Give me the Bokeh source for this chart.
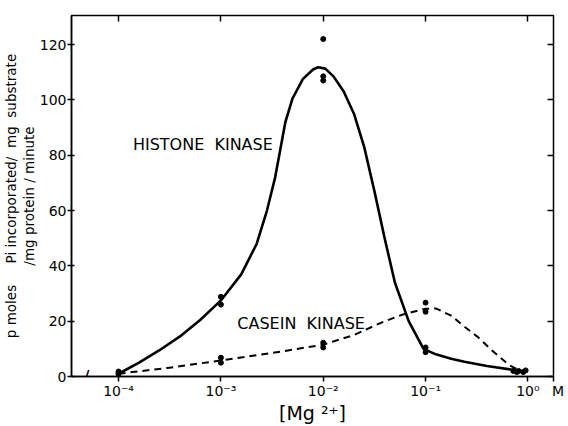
import numpy as np
from bokeh.plotting import figure
from bokeh.models import FixedTicker, LinearAxis, LogAxis, Label, Range1d, Title
from bokeh.embed import file_html
from bokeh.resources import INLINE

# Measured points (Mg2+ molar concentration, activity)
hist_x = [1e-4, 1e-4, 1e-3, 1e-3, 1e-2, 1e-2, 1e-2, 1e-1, 1e-1, 0.72, 0.81, 0.95]
hist_y = [1.2, 1.8, 26.0, 28.8, 107.0, 108.5, 122.0, 10.5, 8.8, 2.0, 2.0, 2.2]
cas_x = [1e-4, 1e-3, 1e-3, 1e-2, 1e-2, 1e-1, 1e-1, 0.78, 0.9]
cas_y = [1.0, 5.0, 6.8, 10.5, 12.2, 26.7, 23.4, 1.6, 1.6]

# Hand-drawn fitted curves (log10 of concentration, activity)
hist_curve_logx = [-4.0, -3.8, -3.6, -3.4, -3.2, -3.0, -2.8, -2.65, -2.55, -2.47, -2.42, -2.37, -2.3,
                   -2.2, -2.1, -2.05, -1.98, -1.9, -1.8, -1.7, -1.6, -1.5, -1.4, -1.3, -1.165, -1.02,
                   -0.9, -0.75, -0.62, -0.4, -0.165, -0.05]
hist_curve_y = [1.0, 5.0, 9.5, 14.5, 20.5, 27.5, 37.0, 48.0, 60.0, 72.0, 82.0, 92.0, 100.5,
                107.5, 111.0, 111.8, 111.3, 108.5, 103.0, 95.0, 83.0, 67.0, 50.0, 34.0, 20.0, 10.0,
                8.0, 6.4, 5.3, 3.8, 2.5, 2.0]
cas_curve_logx = [-4.0, -3.5, -3.0, -2.5, -2.0, -1.7, -1.43, -1.23, -1.0, -0.9, -0.75, -0.62, -0.48,
                  -0.36, -0.19, -0.05]
cas_curve_y = [1.0, 3.2, 5.8, 8.5, 11.5, 15.0, 19.5, 22.3, 24.5, 24.6, 22.0, 18.0, 14.0,
               9.7, 4.3, 1.5]

NB = "\u00a0"
x_ticks = [1e-4, 1e-3, 1e-2, 1e-1, 1e0, 10 ** 0.25]
x_tick_labels = ["10⁻⁴", "10⁻³", "10⁻²", "10⁻¹", "10⁰", NB * 2 + "M"]
y_ticks = [0, 20, 40, 60, 80, 100, 120]

FONT = "DejaVu Sans"
ylabel_line1 = ("p" + NB + "moles" + NB * 5 + "Pi" + NB + "incorporated/" + NB * 2 + "mg" + NB * 2
                + "substrate")
ylabel_line2 = "/mg" + NB + "protein" + NB + "/" + NB + "minute"
xlabel = "[Mg" + NB + "²⁺]"

p = figure(width=568, height=426, x_axis_type="log", output_backend="svg",
           toolbar_location=None,
           x_range=Range1d(10 ** -4.46, 10 ** 0.25), y_range=Range1d(0, 130.5),
           min_border_left=0, min_border_right=15, min_border_top=15, min_border_bottom=0)
p.background_fill_color = "white"
p.border_fill_color = "white"
p.outline_line_color = "black"
p.outline_line_width = 1.5
p.grid.visible = False

# axes styling
p.xaxis.ticker = FixedTicker(ticks=x_ticks)
p.xaxis.major_label_overrides = {t: l for t, l in zip(x_ticks, x_tick_labels)}
p.xaxis.minor_tick_line_color = None
p.xaxis.major_tick_out = 5
p.xaxis.major_tick_in = 0
p.xaxis.axis_label = xlabel
p.xaxis.axis_label_text_font_style = "normal"
p.xaxis.axis_label_text_font = FONT
p.xaxis.axis_label_text_font_size = "19px"
p.xaxis.axis_label_text_color = "black"
p.xaxis.axis_label_standoff = 0
p.yaxis.ticker = FixedTicker(ticks=y_ticks)
p.yaxis.minor_tick_line_color = None
p.yaxis.major_tick_out = 4
p.yaxis.major_tick_in = 3
for ax in (p.xaxis, p.yaxis):
    ax.major_label_text_font = FONT
    ax.major_label_text_font_size = "14px"
    ax.major_label_text_color = "black"
    ax.axis_line_width = 1.5
    ax.major_tick_line_width = 1.5
p.xaxis.major_label_standoff = 1
p.yaxis.major_label_standoff = 1

# y-axis title as two stacked titles on the left (closest line first)
for txt, off in ((ylabel_line2, 19), (ylabel_line1, 10)):
    p.add_layout(Title(text=txt, align="center", text_font=FONT, text_font_size="13.5px",
                       text_font_style="normal", text_color="black", standoff=0, offset=off),
                 "left")

top_axis = LogAxis(ticker=FixedTicker(ticks=x_ticks[:5]), major_label_text_font_size="1px",
                   major_label_text_alpha=0.0, major_label_standoff=0,
                   major_tick_in=6, major_tick_out=0, minor_tick_line_color=None,
                   axis_line_color=None, major_tick_line_width=1.5)
p.add_layout(top_axis, "above")
right_axis = LinearAxis(ticker=FixedTicker(ticks=y_ticks), major_label_text_font_size="1px",
                        major_label_text_alpha=0.0, major_label_standoff=0,
                        major_tick_in=6, major_tick_out=0, minor_tick_line_color=None,
                        axis_line_color=None, major_tick_line_width=1.5)
p.add_layout(right_axis, "right")

# curves
p.line(x=[10 ** v for v in hist_curve_logx], y=hist_curve_y, line_color="black", line_width=2.6,
       line_join="round")
p.line(x=[10 ** v for v in cas_curve_logx], y=cas_curve_y, line_color="black", line_width=2.0,
       line_dash="7 5", line_join="round")

# data points
p.scatter(x=hist_x, y=hist_y, size=5, color="black")
p.scatter(x=cas_x, y=cas_y, size=5, color="black")

# in-plot labels
p.add_layout(Label(x=10 ** -3.86, y=84, text="HISTONE" + NB * 2 + "KINASE", text_font=FONT,
                   text_font_size="16px", text_color="black", text_baseline="middle"))
p.add_layout(Label(x=10 ** -2.84, y=19.2, text="CASEIN" + NB * 2 + "KINASE", text_font=FONT,
                   text_font_size="16px", text_color="black", text_baseline="middle"))
p.add_layout(Label(x=10 ** -4.31, y=0.5, text="/", text_font=FONT, text_font_size="14px",
                   text_color="black", text_font_style="bold", text_align="center",
                   text_baseline="middle"))

open("out.html", "w").write(file_html(p, INLINE))
